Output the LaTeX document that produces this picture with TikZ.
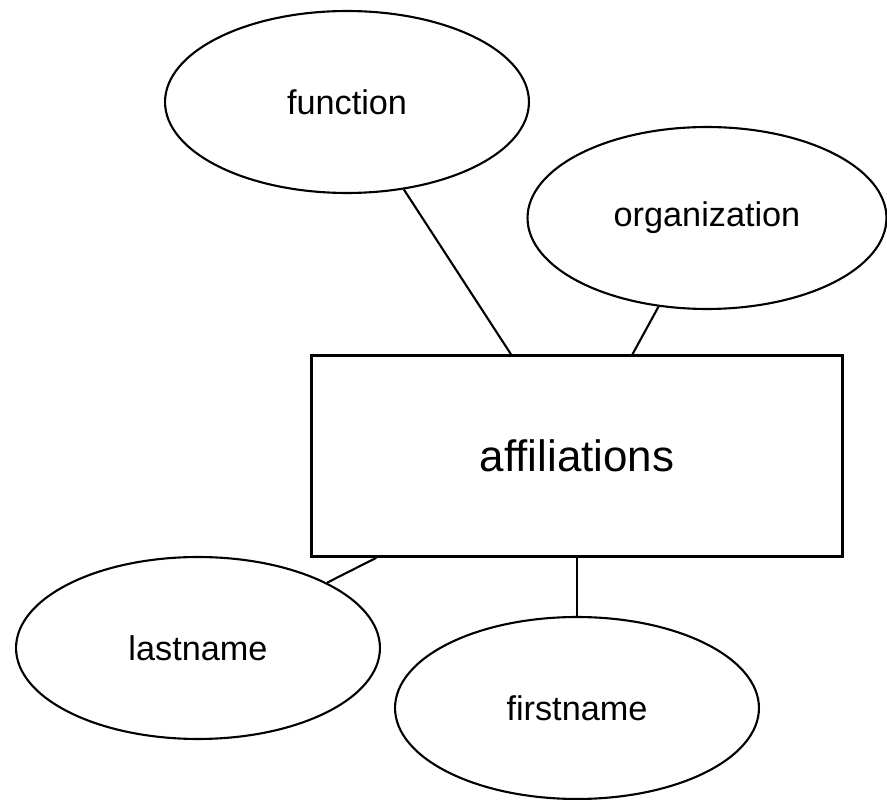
\documentclass[tikz,border=0pt]{standalone}
\usepackage{fontspec}
\setmainfont{Liberation Sans}
\usetikzlibrary{shapes.geometric,positioning}
\tikzset{
  attr/.style={draw, ellipse, line width=1.2pt, inner sep=0pt,
    minimum width=7.28cm, minimum height=3.64cm, font=\fontsize{19.5}{22}\selectfont},
  entity/.style={draw, rectangle, line width=1.5pt, inner sep=0pt,
    minimum width=10.62cm, minimum height=4.02cm, font=\fontsize{25}{28}\selectfont},
  link/.style={line width=1.2pt}
}
\begin{document}
\begin{tikzpicture}[x=0.02cm,y=-0.02cm]
\useasboundingbox (0,0) rectangle (887,800);

% entity
\node[entity] (affil) at (577,456) {affiliations};

% attributes
\node[attr] (func) at (347,102) {function};
\node[attr, minimum width=7.18cm] (org) at (707,218) {organization};
\node[attr] (last) at (198,648) {lastname};
\node[attr] (first) at (577,708) {firstname};

% links
\draw[link] (func) -- (affil);
\draw[link] (org) -- (affil);
\draw[link] (last) -- (affil);
\draw[link] (first) -- (affil);
\end{tikzpicture}
\end{document}
